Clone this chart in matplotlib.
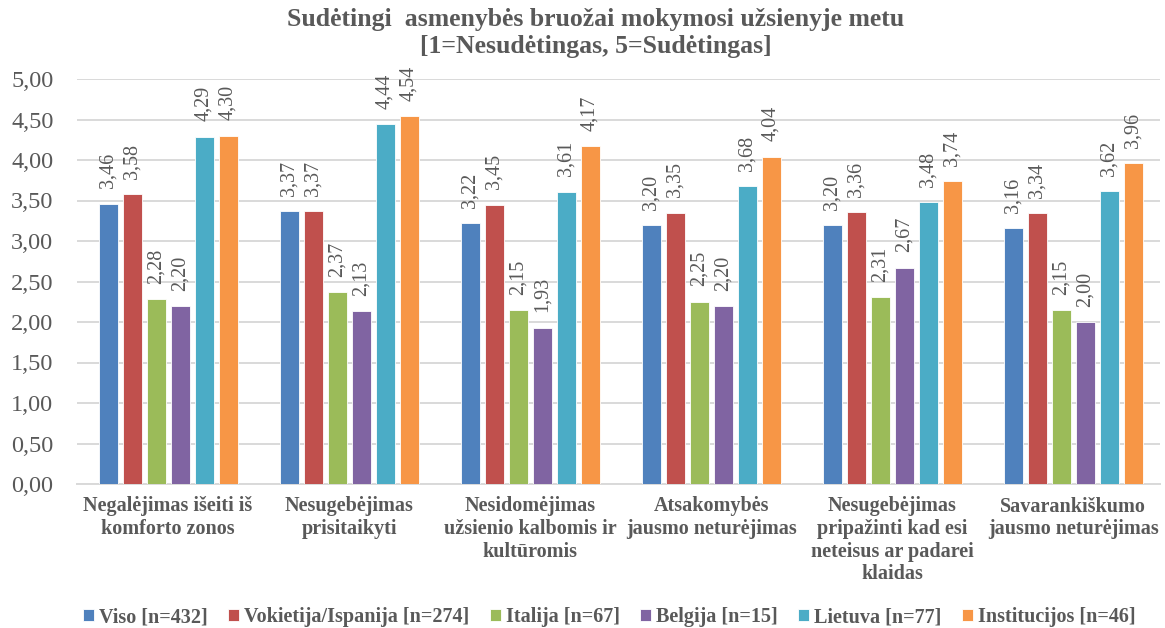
import numpy as np
import matplotlib
matplotlib.use("Agg")
import matplotlib.pyplot as plt

categories = ["Negalėjimas išeiti iš\nkomforto zonos",
              "Nesugebėjimas\nprisitaikyti",
              "Nesidomėjimas\nužsienio kalbomis ir\nkultūromis",
              "Atsakomybės\njausmo neturėjimas",
              "Nesugebėjimas\npripažinti kad esi\nneteisus ar padarei\nklaidas",
              "Savarankiškumo\njausmo neturėjimas"]
series_names = ["Viso [n=432]", "Vokietija/Ispanija [n=274]", "Italija [n=67]",
                "Belgija [n=15]", "Lietuva [n=77]", "Institucijos [n=46]"]
viso = [3.46, 3.37, 3.22, 3.20, 3.20, 3.16]
vokietija = [3.58, 3.37, 3.45, 3.35, 3.36, 3.34]
italija = [2.28, 2.37, 2.15, 2.25, 2.31, 2.15]
belgija = [2.20, 2.13, 1.93, 2.20, 2.67, 2.00]
lietuva = [4.29, 4.44, 3.61, 3.68, 3.48, 3.62]
institucijos = [4.30, 4.54, 4.17, 4.04, 3.74, 3.96]
series = [viso, vokietija, italija, belgija, lietuva, institucijos]
colors = ["#4F81BD", "#C0504D", "#9BBB59", "#8064A2", "#4BACC6", "#F79646"]
yticks = [0, 0.5, 1, 1.5, 2, 2.5, 3, 3.5, 4, 4.5, 5]

txt = "#595959"
plt.rcParams['font.family'] = ['Liberation Serif', 'DejaVu Serif']

fig = plt.figure(figsize=(11.65, 6.28), dpi=100)
ax = fig.add_axes([77 / 1165, 1 - 484 / 628, 1083 / 1165, 405 / 628])

x = np.arange(len(categories))
step = 0.1326
width = 0.105
for i, (vals, name, c) in enumerate(zip(series, series_names, colors)):
    pos = x + (i - 2.5) * step
    ax.bar(pos, vals, width, color=c, label=name, edgecolor="white", linewidth=0.6, zorder=3)
    for p, v in zip(pos, vals):
        ax.annotate(("%.2f" % v).replace(".", ","), (p, v), xytext=(0, 11),
                    textcoords="offset points", rotation=90, ha="center", va="bottom",
                    fontsize=14.5, color=txt)

ax.set_xlim(-0.503, 5.48)
ax.set_ylim(0, 5)
ax.set_yticks(yticks)
ax.set_yticklabels([("%.2f" % t).replace(".", ",") for t in yticks], fontsize=17.5, color=txt)
ax.set_xticks(x)
ax.set_xticklabels(categories, fontsize=14.5, fontweight="bold", color=txt, linespacing=1.17)
ax.tick_params(axis="both", length=0)
ax.tick_params(axis="x", pad=9)
ax.tick_params(axis="y", pad=17)
ax.grid(axis="y", color="#D9D9D9", linewidth=1.4, zorder=0)
for s in ["top", "right", "left"]:
    ax.spines[s].set_visible(False)
ax.spines["bottom"].set_color("#D9D9D9")
ax.spines["bottom"].set_linewidth(1.4)

fig.text(0.511, 0.988, "Sudėtingi  asmenybės bruožai mokymosi užsienyje metu\n[1=Nesudėtingas, 5=Sudėtingas]",
         ha="center", va="top", fontsize=18.5, fontweight="bold", color=txt, linespacing=1.25)

fig.legend(loc="lower center", bbox_to_anchor=(0.523, -0.028), ncol=6, frameon=False,
           prop={"size": 14.5, "weight": "bold"}, labelcolor=txt, handlelength=0.55,
           handleheight=0.55, handletextpad=0.25, columnspacing=1.0)

fig.savefig("out.png", dpi=100)
